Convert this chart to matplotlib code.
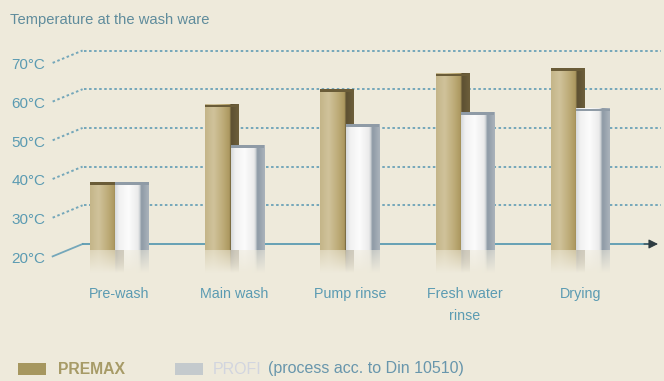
import numpy as np
import matplotlib
matplotlib.use('Agg')
import matplotlib.pyplot as plt
from matplotlib import font_manager
from matplotlib.colors import LinearSegmentedColormap
from matplotlib.patches import Rectangle

stages = ['Pre-wash', 'Main wash', 'Pump rinse', 'Fresh water\nrinse', 'Drying']
premax = [36, 56, 60, 64, 65.5]
profi = [36, 45.5, 51, 54, 55]
temp_ticks = [20, 30, 40, 50, 60, 70]
tick_labels = ['20°C', '30°C', '40°C', '50°C', '60°C', '70°C']

names = {f.name for f in font_manager.fontManager.ttflist}
main_font = 'Liberation Sans Narrow' if 'Liberation Sans Narrow' in names else 'Liberation Sans'
plt.rcParams['font.family'] = [main_font, 'DejaVu Sans']

bg = '#eeeadb'
blue = '#5b9bb2'
grid_col = '#74a7ba'

fig = plt.figure(figsize=(6.64, 3.81), dpi=100)
fig.patch.set_facecolor(bg)
ax = fig.add_axes([0, 0, 1, 1])
ax.set_facecolor(bg)
xlim = (-1.037, 4.728)
ylim = (-15.4, 83.05)
ax.axis('off')

# dotted grid with the slanted lead-in towards each label
for t, lab in zip(temp_ticks, tick_labels):
    ls = '-' if t == 20 else (0, (1.3, 1.3))
    lw = 1.3 if t == 20 else 1.4
    if t != 20:
        ax.plot([-0.31, 4.70], [t, t], ls=ls, color=grid_col, lw=lw, zorder=1)
    ax.plot([-0.58, -0.32], [t - 3.2, t], ls=ls, color=grid_col, lw=lw, zorder=1)
    ax.text(-0.79, t - 3.8, lab, color=blue, fontsize=11, ha='center', va='center')

# x axis with arrow
ax.plot([-0.32, 4.60], [20, 20], color=blue, lw=1.3, zorder=1)
ax.annotate('', xy=(4.70, 20), xytext=(4.53, 20),
            arrowprops=dict(arrowstyle='-|>', color='#2e3c42', lw=0.8, mutation_scale=14),
            zorder=2)

x = np.arange(len(stages))
w = 0.29
base = 18.5

gold = LinearSegmentedColormap.from_list('gold', [
    (0.0, '#c4b589'), (0.25, '#d0c39b'), (0.55, '#bcaa76'),
    (0.74, '#aa965d'), (0.76, '#5b4f31'), (1.0, '#6d5f3b')])
white = LinearSegmentedColormap.from_list('white', [
    (0.0, '#d6d9dc'), (0.12, '#f1f1f1'), (0.4, '#fcfcfc'),
    (0.68, '#ebebeb'), (0.75, '#c3c8cd'), (0.77, '#8c98a4'), (1.0, '#aab3bb')])


def shade(bars, cmap, top_col, z):
    grad = np.linspace(0, 1, 64)[None, :]
    for p in bars:
        x0, y0 = p.get_x(), p.get_y()
        bw, bh = p.get_width(), p.get_height()
        ax.imshow(grad, cmap=cmap, extent=[x0, x0 + bw, y0, y0 + bh],
                  aspect='auto', zorder=z, interpolation='bicubic')
        ax.add_patch(Rectangle((x0, y0 + bh - 0.7), bw, 0.7, color=top_col,
                               lw=0, zorder=z + 0.1))
        # faded mirror image under the base line
        rgba = np.zeros((40, 64, 4))
        rgba[..., :3] = cmap(grad[0])[None, :, :3]
        rgba[..., 3] = np.linspace(0, 0.45, 40)[:, None]
        ax.imshow(rgba, extent=[x0, x0 + bw, y0 - 6, y0], origin='lower',
                  aspect='auto', zorder=z)


b1 = ax.bar(x - 0.11, np.array(premax) - base, w, bottom=base, color='#bfae7a', zorder=3)
b2 = ax.bar(x + 0.11, np.array(profi) - base, w, bottom=base, color='#f2f2f0', zorder=5)
shade(b1, gold, '#6a5c38', 3.5)
shade(b2, white, '#8f9ba6', 5.5)

for xi, s in zip(x, stages):
    ax.text(xi, 8.9, s, color=blue, fontsize=10.3, ha='center', va='top', linespacing=1.75)

ax.set_xlim(*xlim)
ax.set_ylim(*ylim)

fig.text(10 / 664, 1 - 20 / 381, 'Temperature at the wash ware', color='#5f8c9c',
         fontsize=10.6, va='center')

# legend
fig.add_artist(Rectangle((18 / 664, 1 - 375 / 381), 28 / 664, 12 / 381,
                         transform=fig.transFigure, color='#a6975f', lw=0))
fig.text(58 / 664, 1 - 369 / 381, 'PREMAX', color='#a79b67', fontsize=11.3,
         fontweight='bold', va='center')
fig.add_artist(Rectangle((175 / 664, 1 - 375 / 381), 28 / 664, 12 / 381,
                         transform=fig.transFigure, color='#c4cacd', lw=0))
fig.text(213 / 664, 1 - 369 / 381, 'PROFI', color='#d2d5df', fontsize=11.5, va='center')
fig.text(268 / 664, 1 - 369 / 381, '(process acc. to Din 10510)', color='#6896ac',
         fontsize=11.5, va='center')

fig.savefig('out.png', dpi=100, facecolor=bg)
